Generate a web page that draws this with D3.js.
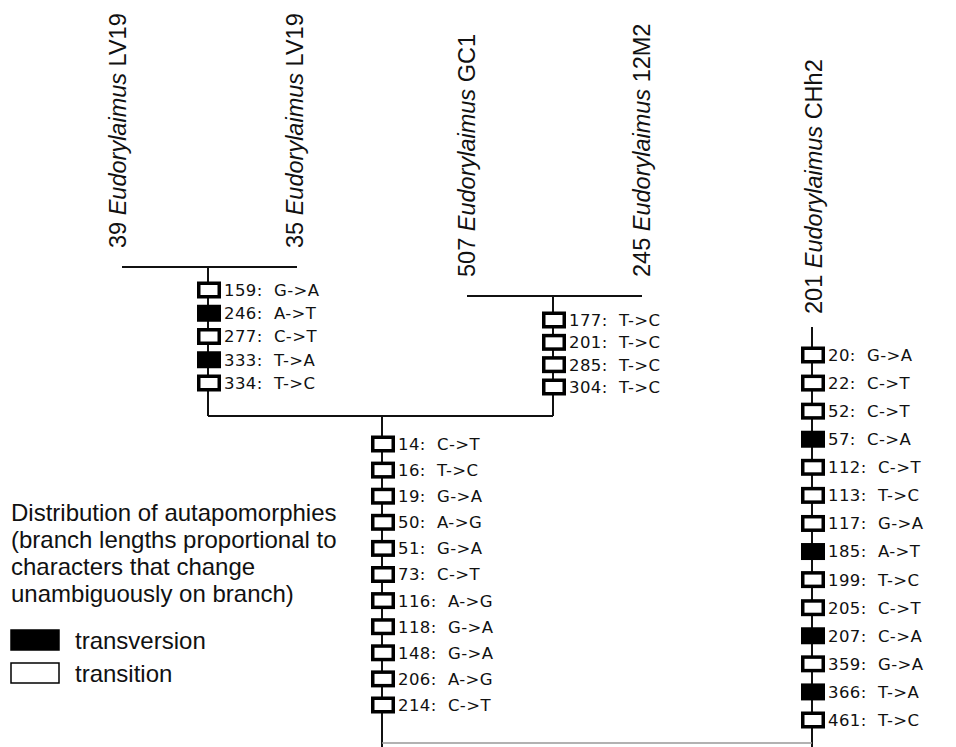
<!DOCTYPE html>
<html><head><meta charset="utf-8">
<script src="https://cdn.jsdelivr.net/npm/d3@7"></script>
<style>
html,body{margin:0;padding:0;background:#fff;}
svg{display:block;}
.chg{font-family:"DejaVu Sans",sans-serif;font-size:16.5px;letter-spacing:0.4px;fill:#111;white-space:pre;}
.tax{font-family:"Liberation Sans",Arial,sans-serif;font-size:23.5px;fill:#111;}
.leg{font-family:"Liberation Sans",Arial,sans-serif;font-size:24px;fill:#111;}
</style></head>
<body>
<script>
// ---- data ----
const taxonNumbers = ["39", "35", "507", "245", "201"];
const taxonGenus = ["Eudorylaimus", "Eudorylaimus", "Eudorylaimus", "Eudorylaimus", "Eudorylaimus"];
const taxonStrain = ["LV19", "LV19", "GC1", "12M2", "CHh2"];

// branch: LV19 clade stem
const lvSites   = ["159", "246", "277", "333", "334"];
const lvChanges = ["G->A", "A->T", "C->T", "T->A", "T->C"];
const lvTypes   = ["ts", "tv", "ts", "tv", "ts"];

// branch: GC1 + 12M2 clade stem
const gcSites   = ["177", "201", "285", "304"];
const gcChanges = ["T->C", "T->C", "T->C", "T->C"];
const gcTypes   = ["ts", "ts", "ts", "ts"];

// branch: stem of the four-taxon clade
const midSites   = ["14", "16", "19", "50", "51", "73", "116", "118", "148", "206", "214"];
const midChanges = ["C->T", "T->C", "G->A", "A->G", "G->A", "C->T", "A->G", "G->A", "G->A", "A->G", "C->T"];
const midTypes   = ["ts", "ts", "ts", "ts", "ts", "ts", "ts", "ts", "ts", "ts", "ts"];

// branch: CHh2 terminal
const chSites   = ["20", "22", "52", "57", "112", "113", "117", "185", "199", "205", "207", "359", "366", "461"];
const chChanges = ["G->A", "C->T", "C->T", "C->A", "C->T", "T->C", "G->A", "A->T", "T->C", "C->T", "C->A", "G->A", "T->A", "T->C"];
const chTypes   = ["ts", "ts", "ts", "tv", "ts", "ts", "ts", "tv", "ts", "ts", "tv", "ts", "tv", "ts"];

const legendLines = ["Distribution of autapomorphies", "(branch lengths proportional to", "characters that change", "unambiguously on branch)"];
const legendTypes = ["tv", "ts"];
const legendNames = ["transversion", "transition"];

// ---- drawing ----
const W = 956, H = 747;
const svg = d3.select("body").append("svg").attr("width", W).attr("height", H);

// tip x positions and tree node positions
const tipX = d3.scaleOrdinal().domain(taxonNumbers).range([122, 297, 467, 642, 812]);
const lvX = 208, gcX = 553, midX = 382;
const yLvTop = 267, yGcTop = 296, yJoin = 416, yRoot = 743, yChTop = 327;

const line = (x1, y1, x2, y2) => svg.append("line")
  .attr("x1", x1).attr("y1", y1).attr("x2", x2).attr("y2", y2)
  .attr("stroke", "#111").attr("stroke-width", 2);

line(tipX("39"), yLvTop, tipX("35"), yLvTop);
line(lvX, yLvTop, lvX, yJoin);
line(tipX("507"), yGcTop, tipX("245"), yGcTop);
line(gcX, yGcTop, gcX, yJoin);
line(lvX, yJoin, gcX, yJoin);
line(midX, yJoin, midX, yRoot + 4);
line(tipX("201"), yChTop, tipX("201"), yRoot + 4);
svg.append("line").attr("x1", midX).attr("y1", yRoot).attr("x2", tipX("201")).attr("y2", yRoot)
  .attr("stroke", "#999").attr("stroke-width", 1.5);

// taxon labels (rotated)
const labelBottom = {"39": 248, "35": 248, "507": 277, "245": 277, "201": 314};
const labelShift = {"39": 4, "35": 6, "507": 8, "245": 8, "201": 10};
taxonNumbers.forEach((n, i) => {
  const x = tipX(n) + labelShift[n], y = labelBottom[n];
  const t = svg.append("text").attr("class", "tax")
    .attr("transform", `translate(${x},${y}) rotate(-90)`);
  t.append("tspan").text(n + " ");
  t.append("tspan").attr("font-style", "italic").text(taxonGenus[i]);
  t.append("tspan").text(" " + taxonStrain[i]);
});

// character change boxes
const BW = 20.5, BH = 13.5, SW = 3.5;
function branch(x, sites, changes, types, y0, y1) {
  const y = d3.scalePoint().domain(sites).range([y0, y1]);
  const g = svg.append("g");
  sites.forEach((s, i) => {
    g.append("rect").attr("x", x + 1 - BW / 2).attr("y", y(s) - BH / 2)
      .attr("width", BW).attr("height", BH)
      .attr("fill", types[i] === "tv" ? "#000" : "#fff")
      .attr("stroke", "#000").attr("stroke-width", SW);
    g.append("text").attr("class", "chg")
      .attr("x", x + 1 + BW / 2 + SW / 2 + 3).attr("y", y(s)).attr("dy", "0.36em")
      .text(s + ":  " + changes[i]);
  });
}
branch(lvX, lvSites, lvChanges, lvTypes, 290, 383);
branch(gcX, gcSites, gcChanges, gcTypes, 320, 387);
branch(midX, midSites, midChanges, midTypes, 444, 705);
branch(tipX("201"), chSites, chChanges, chTypes, 355, 720);

// legend
const ly = d3.scalePoint().domain(legendLines).range([512, 593]);
legendLines.forEach(s => svg.append("text").attr("class", "leg")
  .attr("x", 11).attr("y", ly(s)).attr("dy", "0.36em").text(s));
const lk = d3.scalePoint().domain(legendNames).range([640, 673]);
legendNames.forEach((s, i) => {
  svg.append("rect").attr("x", 11).attr("y", lk(s) - 10).attr("width", 48).attr("height", 20)
    .attr("fill", legendTypes[i] === "tv" ? "#000" : "#fff").attr("stroke", "#000").attr("stroke-width", 1.5);
  svg.append("text").attr("class", "leg").attr("x", 75).attr("y", lk(s)).attr("dy", "0.36em").text(s);
});
</script>
</body></html>
